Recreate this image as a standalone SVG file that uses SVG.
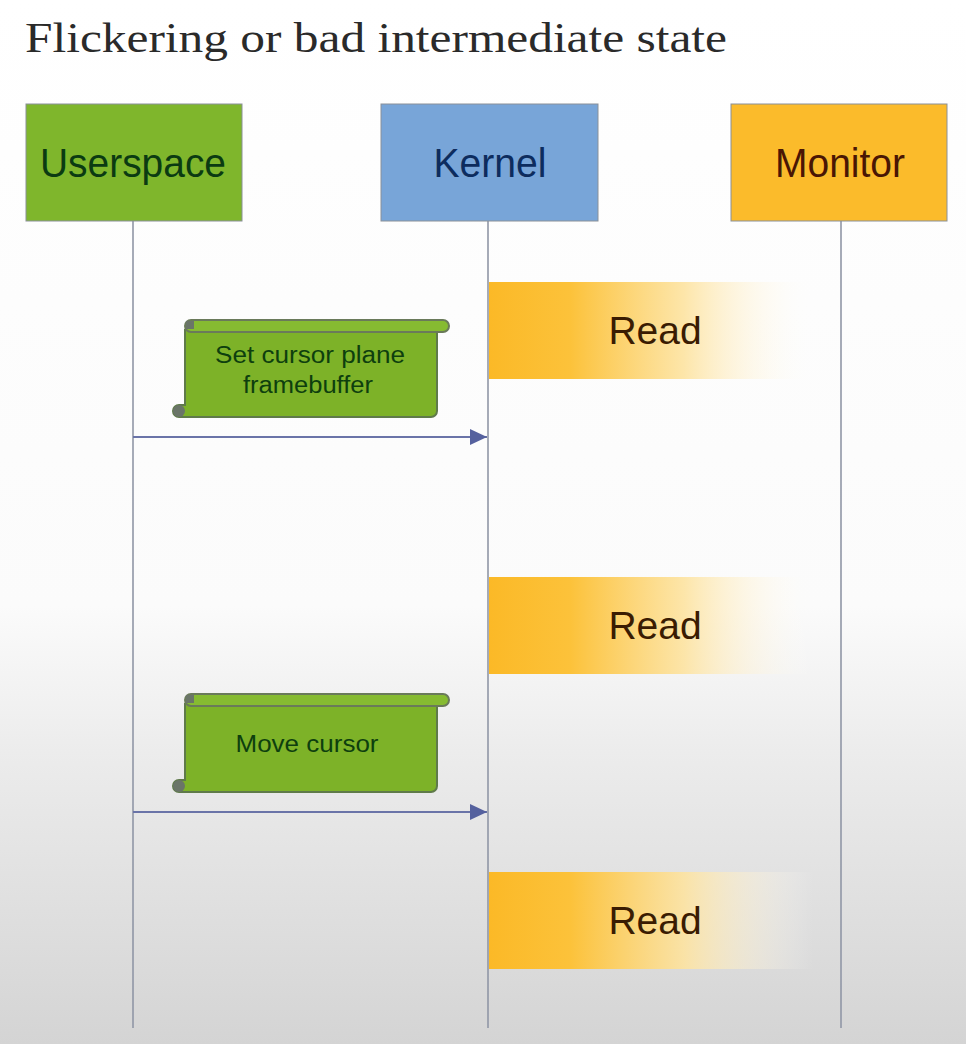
<svg xmlns="http://www.w3.org/2000/svg" width="966" height="1044" viewBox="0 0 966 1044">
<defs>
<linearGradient id="bg" x1="0" y1="0" x2="0" y2="1">
<stop offset="0" stop-color="#ffffff"/>
<stop offset="0.58" stop-color="#fbfbfb"/>
<stop offset="0.72" stop-color="#ececec"/>
<stop offset="1" stop-color="#d4d4d4"/>
</linearGradient>
<linearGradient id="readg" x1="0" y1="0" x2="1" y2="0">
<stop offset="0" stop-color="#fbb927"/>
<stop offset="0.25" stop-color="#fcc23a"/>
<stop offset="0.6" stop-color="#fde3a0" stop-opacity="0.9"/>
<stop offset="1" stop-color="#ffffff" stop-opacity="0"/>
</linearGradient>
<marker id="arr" markerWidth="18" markerHeight="16" refX="17" refY="8" orient="auto" markerUnits="userSpaceOnUse">
<path d="M0,0 L17,8 L0,16 Z" fill="#55619e"/>
</marker>
<style>
.hdr{stroke:#8a9098;stroke-width:1}
.ht{font-family:"Liberation Sans",Arial,sans-serif;font-size:40px;text-anchor:middle}
.life{stroke:#9096a6;stroke-width:1.6;fill:none}
.read{fill:url(#readg)}
.rt{font-family:"Liberation Sans",Arial,sans-serif;font-size:39px;fill:#3a1c02;text-anchor:middle}
.scroll{fill:#7db228;stroke:#5f7a4a;stroke-width:2}
.roll{fill:#86bb31;stroke:#6a7a5a;stroke-width:2}
.curl{fill:#6a7568}
.st{font-family:"Liberation Sans",Arial,sans-serif;font-size:23px;fill:#0e3f0e;text-anchor:middle}
.msg{stroke:#6a74a8;stroke-width:1.8;fill:none}
</style>
</defs>
<rect x="0" y="0" width="966" height="1044" fill="url(#bg)"/>
<text x="25" y="52" font-family="'Liberation Serif','DejaVu Serif',serif" font-size="43" fill="#2a2a2a" textLength="702" lengthAdjust="spacingAndGlyphs">Flickering or bad intermediate state</text>

<g id="lifelines">
<line class="life" x1="133" y1="221" x2="133" y2="1028"/>
<line class="life" x1="488" y1="221" x2="488" y2="1028"/>
<line class="life" x1="841" y1="221" x2="841" y2="1028"/>
</g>

<g id="userspace">
<rect x="26" y="104" width="216" height="117" fill="#7fb62c" class="hdr"/>
<text class="ht" x="133" y="177" fill="#0b3b12" textLength="186" lengthAdjust="spacingAndGlyphs">Userspace</text>
</g>
<g id="kernel">
<rect x="381" y="104" width="217" height="117" fill="#78a5d8" class="hdr"/>
<text class="ht" x="490" y="177" fill="#0d2c5e" textLength="113" lengthAdjust="spacingAndGlyphs">Kernel</text>
</g>
<g id="monitor">
<rect x="731" y="104" width="216" height="117" fill="#fbbb2b" class="hdr"/>
<text class="ht" x="840" y="177" fill="#4a1604" textLength="130" lengthAdjust="spacingAndGlyphs">Monitor</text>
</g>

<g id="read1">
<rect class="read" x="489" y="282" width="325" height="97"/>
<text class="rt" x="655" y="344">Read</text>
</g>
<g id="read2">
<rect class="read" x="489" y="577" width="325" height="97"/>
<text class="rt" x="655" y="639">Read</text>
</g>
<g id="read3">
<rect class="read" x="489" y="872" width="325" height="97"/>
<text class="rt" x="655" y="934">Read</text>
</g>

<g id="note1">
<path class="scroll" d="M185,330 L437,330 L437,411 a6,6 0 0 1 -6,6 L179,417 a6,6 0 0 1 0,-12 L185,405 Z"/>
<circle class="curl" cx="179" cy="411" r="6"/>
<rect class="roll" x="185" y="320" width="264" height="12" rx="6"/>
<rect x="186" y="321" width="8" height="8" fill="#6a7568"/>
<text class="st" x="310" y="363" textLength="190" lengthAdjust="spacingAndGlyphs">Set cursor plane</text>
<text class="st" x="308" y="393" textLength="130" lengthAdjust="spacingAndGlyphs">framebuffer</text>
</g>
<g id="note2">
<path class="scroll" d="M185,704 L437,704 L437,786 a6,6 0 0 1 -6,6 L179,792 a6,6 0 0 1 0,-12 L185,780 Z"/>
<circle class="curl" cx="179" cy="786" r="6"/>
<rect class="roll" x="185" y="694" width="264" height="12" rx="6"/>
<rect x="186" y="695" width="8" height="8" fill="#6a7568"/>
<text class="st" x="307" y="752" textLength="143" lengthAdjust="spacingAndGlyphs">Move cursor</text>
</g>

<g id="connectors">
<line class="msg" x1="133" y1="437" x2="487" y2="437" marker-end="url(#arr)"/>
<line class="msg" x1="133" y1="812" x2="487" y2="812" marker-end="url(#arr)"/>
</g>
</svg>
